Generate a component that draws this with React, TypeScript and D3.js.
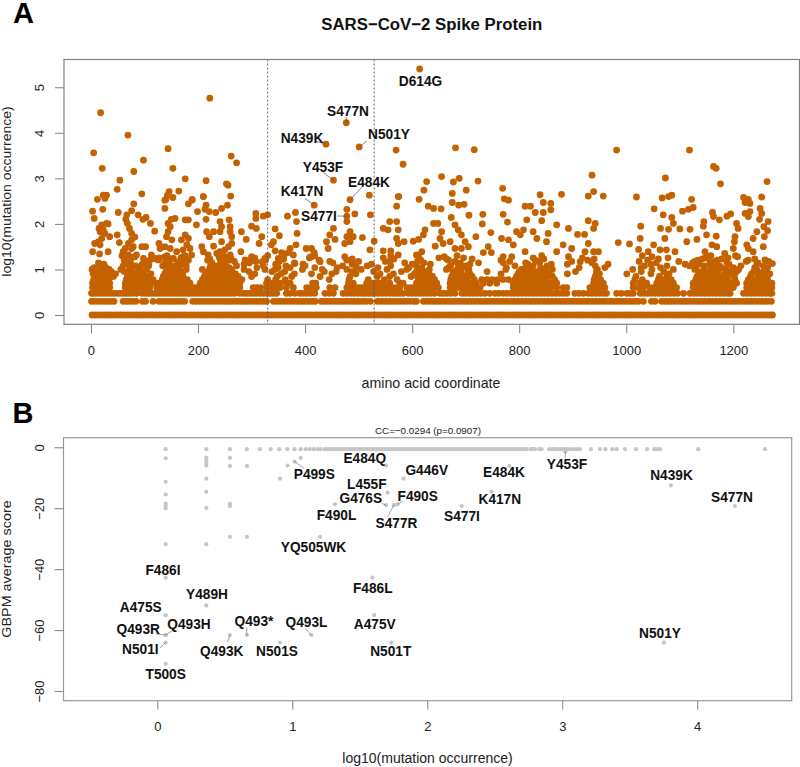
import React, { useRef, useEffect } from 'react';
import * as d3 from 'd3';

const width = 800;
const height = 767;

// panel A: mutation counts are whole numbers, so low log10 values fall on rows
const rowLevels = [0, 0.301, 0.477, 0.602, 0.699, 0.778, 0.845, 0.903, 0.954, 1, 1.041, 1.079, 1.114, 1.146, 1.176, 1.204, 1.23, 1.255, 1.279, 1.301];

const rowResidues = [
  [2,8,14,20,26,32,38,44,50,56,62,68,74,80,86,92,98,104,110,116,122,128,134,140,146,152,158,164,170,176,182,188,194,200,206,212,218,224,230,236,242,248,254,260,266,272,278,284,290,296,302,308,314,320,326,332,338,344,350,356,362,368,374,380,386,392,398,404,410,416,422,428,434,440,446,452,458,464,470,476,482,488,494,500,506,512,518,524,530,536,542,548,554,560,566,572,578,584,590,596,602,608,614,620,626,632,638,644,650,656,662,668,674,680,686,692,698,704,710,716,722,728,734,740,746,752,758,764,770,776,782,788,794,800,806,812,818,824,830,836,842,848,854,860,866,872,878,884,890,896,902,908,914,920,926,932,938,944,950,956,962,968,974,980,986,992,998,1004,1010,1016,1022,1028,1034,1040,1046,1052,1058,1064,1070,1076,1082,1088,1094,1100,1106,1112,1118,1124,1130,1136,1142,1148,1154,1160,1166,1172,1178,1184,1190,1196,1202,1208,1214,1220,1226,1232,1238,1244,1250,1256,1262,1268,1273],
  [1,7,13,19,25,31,37,43,60,66,72,78,84,96,102,116,127,133,139,145,151,157,163,169,175,190,196,202,208,214,220,226,232,238,244,250,256,262,268,274,280,286,292,298,304,310,316,322,328,341,347,353,359,365,371,377,383,389,395,401,407,413,419,430,436,442,448,454,460,466,472,478,484,490,496,502,508,514,522,535,541,547,553,559,565,571,577,583,589,596,603,608,621,627,633,639,645,651,657,663,669,675,681,687,693,699,705,711,717,723,729,735,741,747,753,759,765,771,777,783,789,795,801,807,813,819,825,831,837,843,849,855,861,867,873,879,885,891,897,903,909,915,921,927,933,939,945,951,957,963,969,975,981,987,993,999,1005,1011,1017,1023,1032,1047,1054,1066,1072,1078,1084,1090,1096,1102,1108,1114,1120,1126,1132,1138,1144,1150,1156,1162,1168,1174,1180,1186,1192,1198,1204,1210,1216,1222,1228,1234,1240,1246,1252,1258,1264,1271],
  [1,6,12,18,24,30,36,42,48,54,60,66,72,78,85,95,101,107,113,119,125,131,137,143,149,155,161,167,173,179,185,191,197,203,209,215,221,227,233,239,245,251,257,263,269,278,285,291,297,303,309,316,322,328,335,341,347,365,372,381,390,396,403,410,418,437,445,453,471,478,485,492,499,506,512,518,524,530,537,544,551,558,565,571,577,583,593,600,607,614,621,628,635,642,652,658,665,672,680,693,700,707,714,721,728,736,745,755,762,770,777,784,791,798,805,812,819,826,833,840,847,854,861,868,875,882,889,904,912,920,929,936,943,950,957,963,982,991,1001,1007,1013,1026,1033,1040,1047,1054,1061,1068,1075,1082,1089,1096,1107,1119,1126,1133,1140,1147,1154,1161,1168,1175,1182,1189,1194,1219,1226,1233,1240,1247,1254,1261,1268,1272],
  [3,9,15,22,28,35,64,71,78,85,92,99,105,110,123,130,136,143,149,155,162,168,175,181,188,194,201,207,214,220,227,233,240,246,253,259,266,272,278,303,310,317,328,334,341,347,353,365,378,403,412,421,446,456,478,485,492,499,506,513,520,527,534,541,548,555,562,570,577,590,597,604,611,618,625,632,640,649,671,678,685,692,699,706,713,720,727,789,796,803,810,817,824,831,838,845,852,859,870,882,889,932,939,946,953,960,1013,1022,1032,1044,1051,1058,1065,1072,1079,1086,1094,1125,1132,1139,1146,1153,1160,1167,1174,1181,1188,1195,1200,1225,1232,1239,1246,1253,1260,1267,1272],
  [3,10,17,24,31,35,64,71,78,85,92,99,106,113,123,129,136,143,150,157,164,171,178,185,204,211,218,225,232,239,246,253,260,267,278,328,336,344,353,365,372,414,420,481,490,515,522,530,538,546,558,577,583,608,616,624,632,640,646,671,678,685,692,699,706,713,720,733,745,758,789,797,805,813,821,829,837,845,853,861,870,939,948,957,1013,1026,1038,1057,1065,1073,1081,1088,1125,1133,1141,1149,1157,1165,1173,1181,1189,1197,1206,1225,1233,1241,1249,1257,1265,1272],
  [5,14,24,33,66,76,86,96,106,116,133,143,153,165,180,208,218,228,238,248,258,268,282,330,345,363,445,482,518,548,572,612,622,632,642,672,682,692,702,716,730,740,750,760,770,780,792,802,812,822,832,842,852,866,940,952,1016,1030,1060,1072,1084,1130,1142,1154,1166,1178,1190,1203,1228,1240,1252,1264],
  [8,20,32,42,68,80,92,104,135,148,160,172,212,224,236,248,260,275,300,348,375,428,484,535,558,598,610,624,638,674,686,698,712,795,808,820,834,848,862,942,1018,1062,1076,1132,1146,1160,1174,1188,1202,1232,1246,1260],
  [4,16,28,46,70,84,98,112,138,152,166,214,228,242,256,270,306,355,380,412,450,495,540,565,604,618,632,678,692,708,766,798,812,826,840,856,890,950,1001,1046,1080,1136,1150,1168,1184,1198,1234,1250,1268],
  [10,24,38,62,78,94,140,156,172,218,232,248,264,295,338,362,436,458,488,528,580,608,626,676,690,704,740,800,816,834,850,905,944,1028,1070,1140,1156,1172,1192,1206,1238,1256],
  [2,18,34,56,72,90,104,144,160,178,208,226,244,262,286,325,344,395,432,478,505,553,590,612,632,664,684,706,775,804,824,844,862,946,1012,1048,1088,1128,1146,1166,1186,1210,1244,1262],
  [6,28,74,92,146,164,222,240,258,310,350,372,418,460,496,536,594,618,668,694,776,812,840,912,960,1028,1064,1130,1158,1178,1200,1240,1264],
  [18,60,84,108,134,154,178,234,252,272,322,364,400,470,516,560,608,672,700,792,826,852,942,1034,1076,1118,1146,1174,1214,1256],
  [24,64,96,146,170,224,248,286,345,396,488,524,600,634,686,708,816,860,890,966,1046,1110,1136,1164,1192,1244],
  [14,74,138,162,226,250,296,380,452,494,586,622,690,724,770,812,838,936,1056,1124,1156,1188,1246],
  [66,102,142,166,242,268,308,352,446,500,550,610,680,782,836,898,1024,1098,1128,1164,1224,1266],
  [62,110,146,182,218,258,326,426,478,560,616,668,766,830,928,1040,1134,1170,1228],
  [68,122,148,176,222,262,360,488,566,664,712,846,940,1060,1142,1178,1240],
  [76,128,168,240,306,408,546,650,696,826,918,1078,1148,1190],
  [82,138,172,250,300,412,474,612,660,786,892,1048,1154,1208],
  [58,142,176,246,330,418,560,684,842,1030,1158,1204],
];

// scattered points above the rows
const sparseResidue = [18,222,69,5,144,262,272,98,21,153,80,54,176,215,253,256,49,146,164,95,23,29,261,210,143,140,153,189,12,26,520,570,575,583,681,716,982,1118,1163,1168,1263,1176,1073,936,939,929,957,879,839,769,723,701,675,688,677,655,627,622,613,1019,1067,1079,1085,1122,1219,1228,1253,772,780,3,22,6,29,20,15,23,32,17,26,35,20,14,7,17,3,16,32,51,49,53,67,76,80,65,68,72,76,82,76,70,64,60,76,88,97,103,111,119,95,102,127,138,138,144,150,157,148,144,141,151,138,129,113,120,126,176,182,197,182,189,199,210,215,213,221,215,233,244,255,241,244,258,216,229,221,241,260,260,263,244,229,207,281,290,300,309,308,308,322,330,319,314,344,352,341,367,382,384,385,383,478,478,493,522,453,446,456,440,443,484,478,490,507,474,484,529,521,546,555,558,571,574,571,574,571,574,546,560,574,402,412,417,409,428,372,369,378,381,337,344,356,362,350,280,325,306,320,288,294,
  630,640,654,675,687,697,673,706,732,731,640,648,624,747,719,770,778,811,821,830,845,859,859,814,845,842,870,892,909,922,929,942,939,985,1006,1027,1026,1023,1052,1069,1085,1088,1105,1116,1125,1119,1100,1064,1079,1072,1161,1163,1174,1188,1195,1145,1144,1222,1231,1222,1231,1228,1250,1253,1249,1265,1257,1264,1244,1258,1237,1206,1209,1203,1202,1132,1150,1168,1113,1225,
  1063,1075,1091,1051,1041,671,686,680,692,699,705,692,680,658,643,652,655,621,612,602,618,608,585,733,742,748,767,770,780,789,795,802,808,811,826,833,851,854,870,882,898,923,929,939,948,914,1147,1160,1169,1184,1200,1228,1237,1256,1259,1273,
  70,79,85,98,107,148,160,154,169,176,182,179,185,172,188,176,210,219,241,250,257,263,247,235,260];
const sparseLog = [4.44,4.76,3.95,3.56,3.65,3.49,3.34,3.40,3.22,3.22,3.15,2.96,2.99,2.95,2.88,2.85,2.76,2.71,2.72,2.66,2.63,2.63,2.61,2.60,2.63,2.54,2.58,2.54,2.54,2.56,2.63,3.62,2.6,3.31,3.67,3.63,3.62,3.62,3.26,3.22,2.93,2.88,3.01,3.07,2.71,2.61,2.61,2.65,2.64,2.78,2.94,2.74,2.67,3.0,2.92,3.04,2.93,2.74,2.54,2.59,2.57,2.60,2.63,2.54,2.58,2.54,2.59,2.55,2.52,2.28,2.32,2.12,2.01,1.98,1.90,1.87,2.0,1.83,1.79,1.72,1.68,1.61,1.57,1.54,1.39,1.34,1.39,2.25,1.76,1.59,2.20,2.29,2.44,2.10,2.01,1.9,1.79,1.71,1.65,1.57,1.46,1.39,1.46,2.2,2.1,2.14,2.01,1.84,1.5,1.5,1.57,2.34,2.52,2.01,2.1,2.12,1.94,1.83,1.72,1.65,1.5,1.46,1.32,1.24,1.21,2.09,2.09,1.98,2.44,2.52,2.27,2.6,2.41,2.32,2.27,2.1,2.25,2.34,2.41,2.05,1.94,2.09,1.83,1.83,1.72,1.83,1.94,1.83,1.72,1.61,1.51,1.5,1.83,1.66,1.95,1.9,2.23,2.12,2.17,2.2,1.72,1.57,1.89,1.74,1.61,2.17,2.25,2.05,1.79,1.54,2.32,2.05,2.22,2.2,1.9,1.76,1.66,1.61,1.46,1.83,1.72,1.72,1.7,1.57,1.61,1.62,1.43,1.9,1.87,2.05,2.39,2.6,2.05,1.87,1.68,1.57,1.41,1.41,1.32,1.46,1.46,1.37,1.27,1.17,1.46,1.37,1.32,1.13,1.54,1.41,1.37,1.34,1.24,1.39,1.24,1.19,1.17,1.21,1.19,
  2.39,2.34,2.33,2.47,2.41,2.43,2.14,2.19,2.21,2.0,2.01,2.01,1.87,1.81,1.72,2.21,2.04,2.39,2.39,2.25,2.47,2.45,2.31,2.09,2.25,2.07,1.98,1.9,1.77,1.77,2.07,2.01,1.9,1.59,1.56,1.95,1.68,1.44,2.33,2.2,2.14,2.01,2.28,2.32,2.36,1.88,1.89,1.9,1.88,1.68,2.25,2.16,2.09,2.17,2.22,2.05,1.95,2.47,2.45,2.23,2.27,2.16,2.34,2.23,2.1,2.05,1.94,1.85,1.83,1.72,1.68,2.01,1.9,1.72,1.61,1.66,1.76,1.73,1.61,1.54,
  1.43,1.43,1.39,1.54,1.39,1.61,1.87,1.98,1.76,1.61,1.5,1.46,1.46,1.57,1.51,1.68,1.83,1.76,1.66,1.62,1.39,1.32,1.61,1.37,1.5,1.37,1.68,1.28,1.65,1.54,1.83,1.76,1.87,1.39,1.83,1.68,1.61,1.79,1.39,1.54,1.46,1.39,1.57,1.39,1.39,1.17,1.39,1.54,1.5,1.35,1.46,1.46,1.39,1.5,1.21,1.13,
  1.32,1.5,1.32,1.24,1.13,1.46,1.39,1.24,1.65,1.76,1.68,1.54,1.46,1.43,1.32,1.24,1.39,1.32,1.39,1.43,1.5,1.57,1.28,1.35,1.32];

const labelsA = ['S477N', 'N439K', 'N501Y', 'Y453F', 'E484K', 'D614G', 'K417N', 'S477I'];
const labelResidue = [477, 439, 501, 453, 484, 614, 417, 478];
const labelLog = [4.22, 3.75, 3.69, 2.96, 2.53, 5.4, 2.41, 2.17];
const regionBounds = [330, 529];

// panel B: occurrence and GBPM score
const topRowLog = [0.062,0.363,0.538,0.664,0.76,0.84,0.904,0.963,1.017,1.062,1.1,1.13,1.16,1.19,1.21,1.24,1.26,1.28,1.3,1.32,1.34,1.36,1.38,1.4,1.42,1.44,1.46,1.48,1.5,1.52,1.54,1.56,1.58,1.6,1.62,1.64,1.66,1.68,1.7,1.72,1.74,1.76,1.78,1.8,1.82,1.84,1.86,1.88,1.9,1.92,1.94,1.96,1.98,2,2.02,2.04,2.06,2.08,2.1,2.12,2.14,2.16,2.18,2.2,2.22,2.24,2.26,2.28,2.3,2.32,2.34,2.36,2.38,2.4,2.42,2.44,2.46,2.48,2.5,2.52,2.54,2.56,2.58,2.6,2.62,2.64,2.66,2.68,2.7,2.72,2.736,2.766,2.782,2.798,2.83,2.847,2.904,2.929,2.945,2.959,2.983,3.0,3.02,3.04,3.057,3.082,3.107,3.131,3.213,3.279,3.32,3.371,3.403,3.465,3.546,3.628,3.682,3.704,3.726,4.008,4.502];
const scoreLog = [0.062,0.062,0.062,0.062,0.062,0.062,0.062,0.363,0.363,0.363,0.363,0.363,0.363,0.363,0.363,0.538,0.538,0.538,0.538,0.538,0.664,0.664,0.909,0.965,1.062];
const scoreValue = [-3.6,-11.3,-15.5,-18.5,-19.3,-20,-31.8,-3.4,-4.2,-4.9,-6,-10.3,-14.6,-19.9,-31.8,-3.5,-6.1,-18.6,-19.3,-29.4,-6.1,-29.4,-10.3,-6,-3.5];

const labelsB = ['P499S','E484Q','L455F','G476S','F490L','YQ505WK','S477R','F490S','G446V','E484K','K417N','S477I','Y453F','N439K','S477N','F486I','Y489H','A475S','Q493R','Q493H','N501I','T500S','Q493K','Q493*','N501S','Q493L','F486L','A475V','N501T','N501Y'];
const labelBLog = [1.017,1.694,1.706,1.694,1.316,1.207,1.753,1.78,1.825,2.608,2.477,2.255,3.023,3.805,4.279,0.062,0.363,0.062,0.062,0.062,0.062,0.062,0.538,0.664,0.909,1.141,1.593,1.607,1.733,3.753];
const labelBScore = [-4.7,-6,-14.9,-19,-18.7,-29.4,-19,-18.7,-10.3,-6.1,-14.6,-19.3,-1.4,-12.5,-19.3,-42.8,-51.9,-55.1,-61.6,-61.6,-64.1,-71.1,-61.6,-61.6,-64.1,-61.6,-42.8,-55.1,-64.1,-64.1];

// where the annotation text sits on the page: centre x, baseline y, and the end of its leader if any
const placeA: Record<string, [number, number, number?, number?]> = {
  S477N: [348, 116, 346.3, 117], N439K: [302, 142.5, 316, 141.3], N501Y: [389, 139, 367, 141],
  Y453F: [323, 171.7, 323.3, 172.7], E484K: [369, 186.7, 361.7, 187.3], D614G: [420.5, 86],
  K417N: [302, 196, 305, 198.3], S477I: [319, 221, 337.3, 216],
};
const placeB: Record<string, [number, number, number?, number?]> = {
  P499S: [314.3, 478.7, 304, 468.3], E484Q: [364.8, 462.7], L455F: [366.8, 489], G476S: [360.8, 502.7, 381.7, 503.3],
  F490L: [336.5, 520], YQ505WK: [313.5, 551.7], S477R: [396.5, 528.3, 387.7, 516.7], F490S: [417.7, 501, 403, 501],
  G446V: [426.7, 475.3], E484K: [504, 477.3], K417N: [499.8, 504], S477I: [462, 521.3], Y453F: [567, 469, 565.3, 458],
  N439K: [671.5, 480], S477N: [732, 502], F486I: [163, 574.7], Y489H: [207, 599.3], A475S: [140.7, 611.7],
  Q493R: [138.3, 634, 156, 634], Q493H: [189, 628.7, 175, 629], N501I: [140.3, 654, 160, 648], T500S: [165.7, 678.7],
  Q493K: [221.7, 655.7, 227.3, 642.3], 'Q493*': [254, 626, 246.7, 627.3], N501S: [277, 655.7],
  Q493L: [306.5, 627.3, 305, 628.3], F486L: [372.7, 593.3], A475V: [374.7, 629.3], N501T: [390.7, 656], N501Y: [660, 638.3],
};

const font = 'Liberation Sans, Arial, sans-serif';
const orange = '#c46200';
const grey = '#c6c6c6';

const styleAxis = (g: any, rotate: boolean, offset: number) => {
  g.select('.domain').remove();
  g.selectAll('.tick line').attr('stroke', '#808080').attr('stroke-width', 1);
  const t = g.selectAll('.tick text').attr('fill', '#222').attr('font-size', 13).attr('font-family', font);
  if (rotate) {
    t.attr('transform', 'rotate(-90)').attr('x', 0).attr('y', -offset).attr('dy', 0).attr('text-anchor', 'middle');
  } else {
    t.attr('y', offset).attr('dy', 0);
  }
};

const App = () => {
  const ref = useRef<SVGSVGElement | null>(null);

  useEffect(() => {
    if (!ref.current) return;
    const svg = d3.select(ref.current);
    svg.selectAll('*').remove();

    const xA = d3.scaleLinear().domain([-50.4, 1323.6]).range([64, 799.5]);
    const yA = d3.scaleLinear().domain([-0.204, 5.609]).range([324.3, 59.5]);
    const xB = d3.scaleLinear().domain([-0.695, 4.7]).range([63.5, 791.7]);
    const yB = d3.scaleLinear().domain([-83.17, 3.15]).range([700.7, 437.7]);

    const text = (s: string, x: number, y: number, size: number, weight = 'normal', fill = '#222', squeeze = 1) =>
      svg.append('text').attr('transform', `translate(${x},${y}) scale(${squeeze},1)`).attr('text-anchor', 'middle')
        .attr('font-family', font).attr('font-size', size).attr('font-weight', weight).attr('fill', fill).text(s);

    // panel A
    const pointsA: [number, number][] = [];
    rowResidues.forEach((row, i) => row.forEach((r) => pointsA.push([r, rowLevels[i]])));
    sparseResidue.forEach((r, i) => pointsA.push([r, sparseLog[i]]));
    labelResidue.forEach((r, i) => pointsA.push([r, labelLog[i]]));

    svg.append('g').selectAll('circle').data(pointsA).join('circle')
      .attr('cx', (d) => xA(d[0])).attr('cy', (d) => yA(d[1])).attr('r', 3.4).attr('fill', orange);

    svg.append('g').selectAll('line').data(regionBounds).join('line')
      .attr('x1', (d) => xA(d)).attr('x2', (d) => xA(d)).attr('y1', 59.5).attr('y2', 324.3)
      .attr('stroke', '#555').attr('stroke-width', 0.9).attr('stroke-dasharray', '2,2');

    svg.append('rect').attr('x', 64).attr('y', 59.5).attr('width', 735.5).attr('height', 264.8)
      .attr('fill', 'none').attr('stroke', '#808080').attr('stroke-width', 1.2);

    svg.append('g').attr('transform', 'translate(0,324.3)')
      .call(d3.axisBottom(xA).tickValues([0, 200, 400, 600, 800, 1000, 1200]).tickSize(9).tickFormat(d3.format('d')) as any)
      .call((g: any) => styleAxis(g, false, 31));
    svg.append('g').attr('transform', 'translate(64,0)')
      .call(d3.axisLeft(yA).tickValues([0, 1, 2, 3, 4, 5]).tickSize(9).tickFormat(d3.format('d')) as any)
      .call((g: any) => styleAxis(g, true, 20));

    labelsA.forEach((name, i) => {
      const [lx, ly, ex, ey] = placeA[name];
      if (ex !== undefined) {
        svg.append('line').attr('x1', xA(labelResidue[i])).attr('y1', yA(labelLog[i])).attr('x2', ex).attr('y2', ey as number)
          .attr('stroke', '#555').attr('stroke-width', 0.7);
      }
      text(name, lx, ly, 14.5, 'bold', '#111', 0.945);
    });

    text('SARS\u2212CoV\u22122 Spike Protein', 431.8, 30, 16.8, 'bold', '#111');
    text('amino acid coordinate', 431, 388, 14.2);
    text('log10(mutation occurrence)', 0, 0, 12.5).attr('transform', 'translate(11.3,191.5) rotate(-90) scale(1.12,1)');
    text('A', 23.5, 23, 29, 'bold', '#000');

    // panel B
    const pointsB: [number, number][] = [];
    topRowLog.forEach((x) => pointsB.push([x, -0.6]));
    scoreLog.forEach((x, i) => pointsB.push([x, scoreValue[i]]));
    labelBLog.forEach((x, i) => pointsB.push([x, labelBScore[i]]));

    svg.append('g').selectAll('circle').data(pointsB).join('circle')
      .attr('cx', (d) => xB(d[0])).attr('cy', (d) => yB(d[1])).attr('r', 2.1).attr('fill', grey);

    svg.append('rect').attr('x', 63.5).attr('y', 437.7).attr('width', 728.2).attr('height', 263)
      .attr('fill', 'none').attr('stroke', '#999').attr('stroke-width', 1.2);

    svg.append('g').attr('transform', 'translate(0,700.7)')
      .call(d3.axisBottom(xB).tickValues([0, 1, 2, 3, 4]).tickSize(9).tickFormat(d3.format('d')) as any)
      .call((g: any) => styleAxis(g, false, 30));
    svg.append('g').attr('transform', 'translate(63.5,0)')
      .call(d3.axisLeft(yB).tickValues([0, -20, -40, -60, -80]).tickSize(9).tickFormat((d: any) => (d < 0 ? `\u2212${-d}` : `${d}`)) as any)
      .call((g: any) => styleAxis(g, true, 20));

    labelsB.forEach((name, i) => {
      const [lx, ly, ex, ey] = placeB[name];
      if (ex !== undefined) {
        svg.append('line').attr('x1', xB(labelBLog[i])).attr('y1', yB(labelBScore[i])).attr('x2', ex).attr('y2', ey as number)
          .attr('stroke', '#666').attr('stroke-width', 0.6);
      }
      text(name, lx, ly, 14.5, 'bold', '#111', 0.945);
    });

    text('CC=\u22120.0294 (p=0.0907)', 428, 434, 9.8);
    text('log10(mutation occurrence)', 427.5, 763, 14);
    text('GBPM average score', 0, 0, 12.5).attr('transform', 'translate(11.3,569) rotate(-90) scale(1.15,1)');
    text('B', 23, 423, 29, 'bold', '#000');
  }, []);

  return (
    <svg
      ref={ref}
      width={width}
      height={height}
      viewBox={`0 0 ${width} ${height}`}
      style={{ position: 'absolute', left: 0, top: 0, background: '#fff' }}
    />
  );
};

export default App;
